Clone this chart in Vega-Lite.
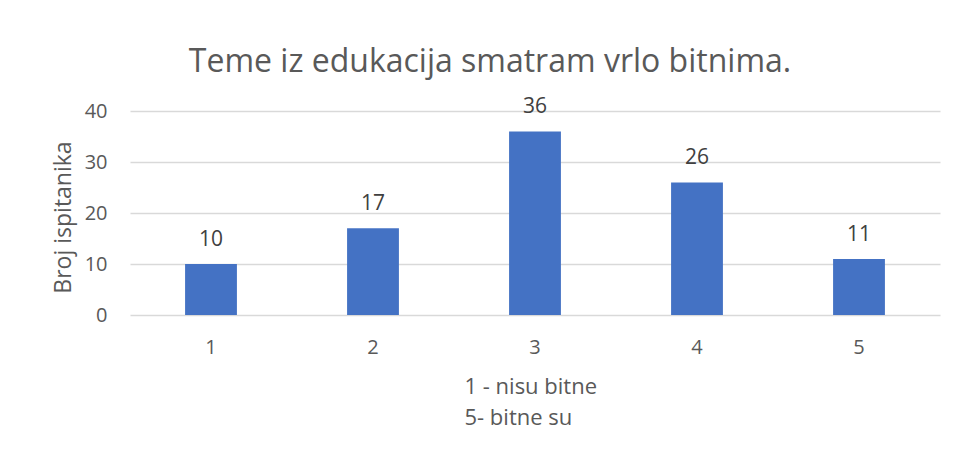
{
  "$schema": "https://vega.github.io/schema/vega-lite/v6.json",
  "width": 810,
  "height": 204,
  "autosize": "none",
  "padding": {"left": 130, "top": 111, "right": 16, "bottom": 144},
  "background": "white",
  "config": {
    "view": {"stroke": null},
    "font": "Open Sans"
  },
  "title": {
    "text": "Teme iz edukacija smatram vrlo bitnima.",
    "fontSize": 32,
    "fontWeight": "normal",
    "color": "#595959",
    "anchor": "middle",
    "dx": -45,
    "offset": 17
  },
  "data": {
    "values": [
      {"ocjena": "1", "broj": 10},
      {"ocjena": "2", "broj": 17},
      {"ocjena": "3", "broj": 36},
      {"ocjena": "4", "broj": 26},
      {"ocjena": "5", "broj": 11}
    ]
  },
  "encoding": {
    "x": {
      "field": "ocjena",
      "type": "nominal",
      "sort": null,
      "scale": {"paddingInner": 0.68, "paddingOuter": 0.34},
      "axis": {
        "title": ["1 - nisu bitne", "5- bitne su"],
        "titleFontSize": 22,
        "titleFontWeight": "normal",
        "titleColor": "#595959",
        "titleAlign": "left",
        "titleAnchor": "start",
        "titleBaseline": "alphabetic",
        "titleX": 334,
        "titleY": 78,
        "titleLineHeight": 31,
        "labelAngle": 0,
        "labelFontSize": 20,
        "labelColor": "#595959",
        "labelPadding": 22,
        "ticks": false,
        "domain": false
      }
    },
    "y": {
      "field": "broj",
      "type": "quantitative",
      "scale": {"domain": [0, 40]},
      "axis": {
        "title": "Broj ispitanika",
        "titleFontSize": 23,
        "titleFontWeight": "normal",
        "titleColor": "#595959",
        "titlePadding": 9,
        "titleY": 106,
        "values": [0, 10, 20, 30, 40],
        "labelFontSize": 20,
        "labelColor": "#595959",
        "labelPadding": 23,
        "ticks": false,
        "domain": false,
        "gridColor": "#d9d9d9",
        "gridWidth": 1.3
      }
    }
  },
  "layer": [
    {"mark": {"type": "bar", "color": "#4472C4"}},
    {
      "mark": {"type": "text", "fontSize": 21, "color": "#404040", "baseline": "alphabetic", "dy": -18},
      "encoding": {"text": {"field": "broj", "type": "quantitative"}}
    }
  ]
}
